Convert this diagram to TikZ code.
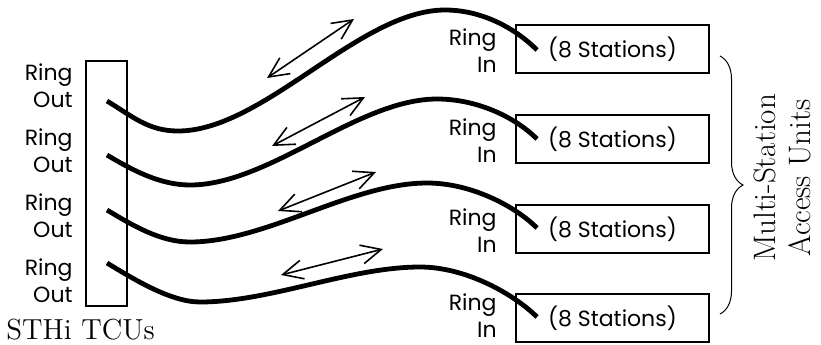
\documentclass[tikz,border=0pt]{standalone}
\usepackage{fontspec}
\newfontfamily\ringfont{Poppins}
\usetikzlibrary{arrows.meta,decorations.pathreplacing}

\begin{document}
\begin{tikzpicture}[x=0.5pt,y=-0.5pt,
  ringlabel/.style={align=right,inner sep=0pt,anchor=east,font=\ringfont\fontsize{11}{13.5}\selectfont},
  mau/.style={draw,line width=1pt,minimum width=96.5pt,minimum height=24pt,inner sep=0pt,font=\ringfont\fontsize{11}{13.5}\selectfont},
  cable/.style={line width=2.4pt},
  flow/.style={line width=0.8pt,{Straight Barb[length=10pt,width=9.5pt]}-{Straight Barb[length=10pt,width=9.5pt]}}]
\useasboundingbox (0,0) rectangle (821,344);
%
\node[draw,line width=1pt,minimum width=20.5pt,minimum height=122.5pt] (tcu) at (106.5,183.5) {};
\node[anchor=base west,inner sep=0pt,font=\fontsize{14.5}{16}\selectfont] (tcuname) at (6,339) {STHi TCUs};
%
\foreach \i/\y in {1/86,2/151,3/216,4/281}
  \node[ringlabel] (out\i) at (73,\y) {Ring\\Out};
%
\foreach \i/\y/\ly in {1/49/51,2/139/141,3/229/231,4/318/315.5} {
  \node[mau] (mau\i) at (612.5,\y) {(8 Stations)};
  \node[ringlabel] (in\i) at (497,\ly) {Ring\\In};
}
%
\foreach \i/\sy/\mx/\my/\px/\py/\ey in {1/101/178/131/445/10/50,2/155/190/185/437/99/139,3/210/190/242/427/183/228,4/263/200/302/420/267/317} {
  \coordinate (tx\i) at (107,\sy);
  \coordinate (rx\i) at (537,\ey);
  \draw[cable] (tx\i) .. controls +(25,15) and +(-30,0) .. (\mx,\my)
    .. controls +({0.32*(\px-\mx)},0) and +({-0.32*(\px-\mx)},0) .. (\px,\py)
    .. controls +({0.4*(537-\px)},0) and +(-22,-22) .. (rx\i);
}
%
\foreach \i/\ax/\ay/\bx/\by in {1/267/78/354/19,2/272/146/365/97,3/278/211/376/172,4/281/275/383/249} {
  \coordinate (fa\i) at (\ax,\ay);
  \coordinate (fb\i) at (\bx,\by);
  \draw[flow] (fa\i) -- (fb\i);
}
%
\draw[line width=0.5pt,decorate,decoration={brace,amplitude=11.5pt}] (720,56) -- (720,314);
\node[rotate=90,align=center,font=\fontsize{15.5}{17.5}\selectfont] (mauname) at (782,178) {Multi-Station\\Access Units};
\end{tikzpicture}
\end{document}
